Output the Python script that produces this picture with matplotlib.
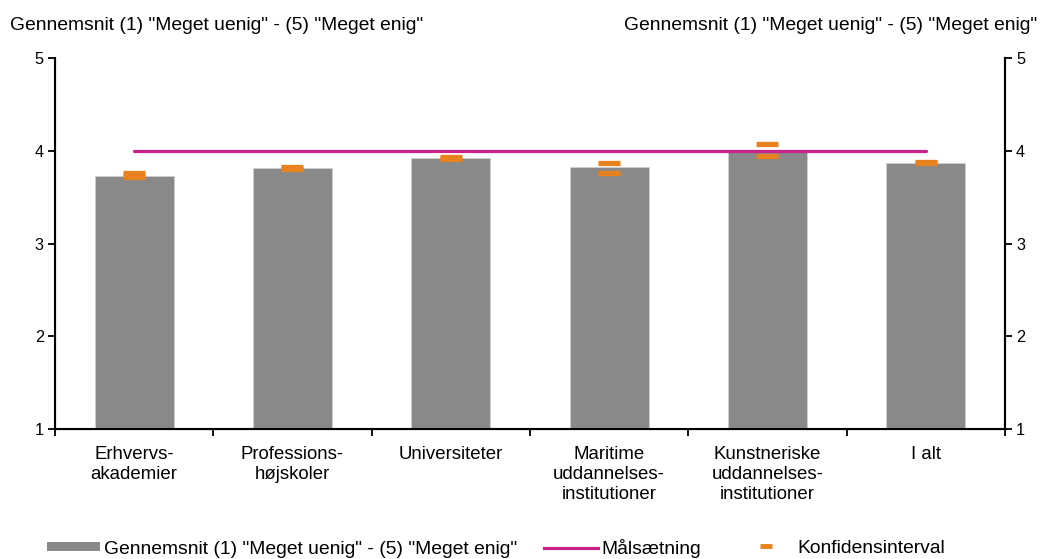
import numpy as np
import matplotlib
matplotlib.use("Agg")
import matplotlib.pyplot as plt
from matplotlib.lines import Line2D
from matplotlib.patches import Patch

plt.rcParams['font.family'] = ['Liberation Sans', 'DejaVu Sans']
plt.rcParams['font.size'] = 9

# data
kategorier = ["Erhvervs-\nakademier", "Professions-\nhøjskoler", "Universiteter",
              "Maritime\nuddannelses-\ninstitutioner", "Kunstneriske\nuddannelses-\ninstitutioner",
              "I alt"]
gennemsnit = [3.73, 3.81, 3.92, 3.82, 4.00, 3.87]
ci_nedre = [3.72, 3.805, 3.915, 3.755, 3.94, 3.87]
ci_oevre = [3.755, 3.83, 3.935, 3.87, 4.07, 3.88]
maalsaetning = [4, 4, 4, 4, 4, 4]

serie_navn = 'Gennemsnit (1) "Meget uenig" - (5) "Meget enig"'

BAR = "#898989"
MAAL = "#C8228A"
CI = "#E8821E"
FS = 13.9

fig = plt.figure(figsize=(10.41, 5.59), dpi=100)
ax = fig.add_axes([0.0528, 0.2326, 0.9126, 0.6636])

x = np.arange(len(kategorier))
ax.bar(x, np.array(gennemsnit) - 1, bottom=1, width=0.5, color=BAR,
       edgecolor="#d0d0d0", linewidth=0.6, zorder=2)
ax.plot(x, maalsaetning, color=MAAL, lw=2.3, zorder=3, solid_capstyle="round")
ax.plot(x, ci_nedre, ls="none", marker="_", ms=16, mew=3.8, color=CI, zorder=4)
ax.plot(x, ci_oevre, ls="none", marker="_", ms=16, mew=3.8, color=CI, zorder=4)

ax.set_xlim(-0.5, len(kategorier) - 0.5)
ax.set_ylim(1, 5)
ax.set_yticks([1, 2, 3, 4, 5])
ax.set_xticks(x)
ax.set_xticklabels(kategorier, fontsize=13.4, linespacing=1.2)
ax.set_xticks(np.arange(-0.5, len(kategorier)), minor=True)
ax.tick_params(axis="x", which="major", length=0, pad=12.5)
ax.tick_params(axis="x", which="minor", length=5, width=1.3, direction="out")
ax.tick_params(axis="y", length=5, width=1.3, direction="out", labelsize=11.7, pad=3)
ax.spines["top"].set_visible(False)
for s in ["left", "right", "bottom"]:
    ax.spines[s].set_linewidth(1.5)

ax2 = ax.twinx()
ax2.set_ylim(1, 5)
ax2.set_yticks([1, 2, 3, 4, 5])
ax2.tick_params(axis="y", length=5, width=1.3, direction="out", labelsize=11.7, pad=3)
ax2.spines["top"].set_visible(False)
ax2.spines["right"].set_linewidth(1.5)

fig.text(10 / 1041, 1 - 30 / 559, serie_navn, ha="left", va="baseline", fontsize=FS)
fig.text(1037 / 1041, 1 - 30 / 559, serie_navn, ha="right", va="baseline", fontsize=FS)

ly = 1 - 548 / 559
fig.legend([Patch(facecolor=BAR, edgecolor="none"),
            Line2D([], [], color=MAAL, lw=2.3)],
           [serie_navn, "Målsætning"], loc="center left",
           bbox_to_anchor=(47 / 1041, ly), ncol=2, frameon=False,
           handlelength=2.75, handleheight=0.35, handletextpad=0.22,
           columnspacing=1.4, fontsize=FS, borderpad=0, borderaxespad=0)
fig.legend([Line2D([], [], ls="none", marker="_", ms=8.6, mew=3.5, color=CI)],
           ["Konfidensinterval"], loc="center left",
           bbox_to_anchor=(753 / 1041, ly), frameon=False,
           handlelength=1.3, handletextpad=1.0, fontsize=FS,
           borderpad=0, borderaxespad=0)

fig.savefig("out.png", dpi=100)
